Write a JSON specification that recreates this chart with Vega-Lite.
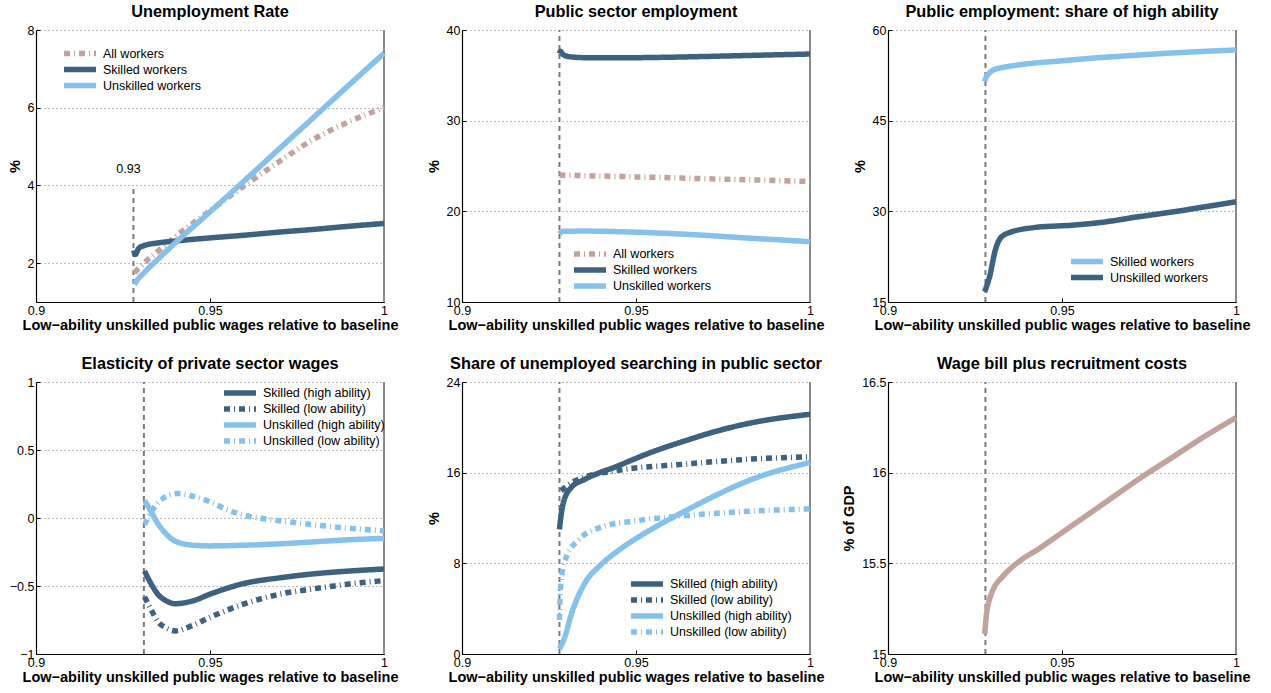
{
  "$schema": "https://vega.github.io/schema/vega-lite/v6.json",
  "background": "white",
  "padding": {"left": 7, "top": 3, "right": 5, "bottom": 5},
  "columns": 3,
  "spacing": {"row": 80, "column": 78},
  "bounds": "flush",
  "datasets": {
    "unemp": [
      {"w": 0.9283, "v": 1.75, "s": "All workers"},
      {"w": 0.929, "v": 1.82, "s": "All workers"},
      {"w": 0.931, "v": 2.0, "s": "All workers"},
      {"w": 0.935, "v": 2.3, "s": "All workers"},
      {"w": 0.94, "v": 2.68, "s": "All workers"},
      {"w": 0.95, "v": 3.35, "s": "All workers"},
      {"w": 0.96, "v": 4.0, "s": "All workers"},
      {"w": 0.97, "v": 4.62, "s": "All workers"},
      {"w": 0.98, "v": 5.2, "s": "All workers"},
      {"w": 0.99, "v": 5.64, "s": "All workers"},
      {"w": 1.0, "v": 6.0, "s": "All workers"},
      {"w": 0.9281, "v": 2.33, "s": "Skilled workers"},
      {"w": 0.9285, "v": 2.22, "s": "Skilled workers"},
      {"w": 0.9295, "v": 2.38, "s": "Skilled workers"},
      {"w": 0.931, "v": 2.45, "s": "Skilled workers"},
      {"w": 0.935, "v": 2.52, "s": "Skilled workers"},
      {"w": 0.94, "v": 2.57, "s": "Skilled workers"},
      {"w": 0.95, "v": 2.65, "s": "Skilled workers"},
      {"w": 0.96, "v": 2.72, "s": "Skilled workers"},
      {"w": 0.97, "v": 2.8, "s": "Skilled workers"},
      {"w": 0.98, "v": 2.87, "s": "Skilled workers"},
      {"w": 0.99, "v": 2.95, "s": "Skilled workers"},
      {"w": 1.0, "v": 3.02, "s": "Skilled workers"},
      {"w": 0.9283, "v": 1.45, "s": "Unskilled workers"},
      {"w": 0.929, "v": 1.55, "s": "Unskilled workers"},
      {"w": 0.931, "v": 1.75, "s": "Unskilled workers"},
      {"w": 0.933, "v": 1.93, "s": "Unskilled workers"},
      {"w": 0.935, "v": 2.1, "s": "Unskilled workers"},
      {"w": 0.94, "v": 2.52, "s": "Unskilled workers"},
      {"w": 0.95, "v": 3.32, "s": "Unskilled workers"},
      {"w": 0.96, "v": 4.13, "s": "Unskilled workers"},
      {"w": 0.97, "v": 4.95, "s": "Unskilled workers"},
      {"w": 0.98, "v": 5.77, "s": "Unskilled workers"},
      {"w": 0.99, "v": 6.59, "s": "Unskilled workers"},
      {"w": 1.0, "v": 7.4, "s": "Unskilled workers"}
    ],
    "pubemp": [
      {"w": 0.928, "v": 24.0, "s": "All workers"},
      {"w": 0.95, "v": 23.8, "s": "All workers"},
      {"w": 0.975, "v": 23.55, "s": "All workers"},
      {"w": 1.0, "v": 23.3, "s": "All workers"},
      {"w": 0.928, "v": 37.4, "s": "Skilled workers"},
      {"w": 0.9283, "v": 37.65, "s": "Skilled workers"},
      {"w": 0.929, "v": 37.3, "s": "Skilled workers"},
      {"w": 0.931, "v": 37.05, "s": "Skilled workers"},
      {"w": 0.935, "v": 36.95, "s": "Skilled workers"},
      {"w": 0.95, "v": 36.95, "s": "Skilled workers"},
      {"w": 0.96, "v": 37.0, "s": "Skilled workers"},
      {"w": 0.97, "v": 37.08, "s": "Skilled workers"},
      {"w": 0.98, "v": 37.17, "s": "Skilled workers"},
      {"w": 0.99, "v": 37.26, "s": "Skilled workers"},
      {"w": 1.0, "v": 37.35, "s": "Skilled workers"},
      {"w": 0.928, "v": 17.5, "s": "Unskilled workers"},
      {"w": 0.929, "v": 17.8, "s": "Unskilled workers"},
      {"w": 0.935, "v": 17.82, "s": "Unskilled workers"},
      {"w": 0.95, "v": 17.7, "s": "Unskilled workers"},
      {"w": 0.96, "v": 17.55, "s": "Unskilled workers"},
      {"w": 0.97, "v": 17.35, "s": "Unskilled workers"},
      {"w": 0.98, "v": 17.1, "s": "Unskilled workers"},
      {"w": 0.99, "v": 16.88, "s": "Unskilled workers"},
      {"w": 1.0, "v": 16.65, "s": "Unskilled workers"}
    ],
    "share": [
      {"w": 0.9278, "v": 51.5, "s": "Skilled workers"},
      {"w": 0.928, "v": 51.9, "s": "Skilled workers"},
      {"w": 0.929, "v": 52.8, "s": "Skilled workers"},
      {"w": 0.93, "v": 53.3, "s": "Skilled workers"},
      {"w": 0.932, "v": 53.7, "s": "Skilled workers"},
      {"w": 0.935, "v": 54.0, "s": "Skilled workers"},
      {"w": 0.94, "v": 54.4, "s": "Skilled workers"},
      {"w": 0.95, "v": 54.9, "s": "Skilled workers"},
      {"w": 0.96, "v": 55.4, "s": "Skilled workers"},
      {"w": 0.97, "v": 55.8, "s": "Skilled workers"},
      {"w": 0.98, "v": 56.15, "s": "Skilled workers"},
      {"w": 0.99, "v": 56.45, "s": "Skilled workers"},
      {"w": 1.0, "v": 56.7, "s": "Skilled workers"},
      {"w": 0.9278, "v": 16.7, "s": "Unskilled workers"},
      {"w": 0.9293, "v": 19.4, "s": "Unskilled workers"},
      {"w": 0.9307, "v": 23.3, "s": "Unskilled workers"},
      {"w": 0.9326, "v": 25.8, "s": "Unskilled workers"},
      {"w": 0.9355, "v": 26.6, "s": "Unskilled workers"},
      {"w": 0.9432, "v": 27.4, "s": "Unskilled workers"},
      {"w": 0.9528, "v": 27.7, "s": "Unskilled workers"},
      {"w": 0.9624, "v": 28.25, "s": "Unskilled workers"},
      {"w": 0.972, "v": 29.1, "s": "Unskilled workers"},
      {"w": 0.9816, "v": 29.9, "s": "Unskilled workers"},
      {"w": 1.0, "v": 31.6, "s": "Unskilled workers"}
    ],
    "elast": [
      {"w": 0.9312, "v": -0.39, "s": "Skilled (high ability)"},
      {"w": 0.933, "v": -0.48, "s": "Skilled (high ability)"},
      {"w": 0.935, "v": -0.56, "s": "Skilled (high ability)"},
      {"w": 0.9375, "v": -0.61, "s": "Skilled (high ability)"},
      {"w": 0.94, "v": -0.63, "s": "Skilled (high ability)"},
      {"w": 0.945, "v": -0.61, "s": "Skilled (high ability)"},
      {"w": 0.95, "v": -0.56, "s": "Skilled (high ability)"},
      {"w": 0.96, "v": -0.48, "s": "Skilled (high ability)"},
      {"w": 0.97, "v": -0.44, "s": "Skilled (high ability)"},
      {"w": 0.98, "v": -0.41, "s": "Skilled (high ability)"},
      {"w": 0.99, "v": -0.39, "s": "Skilled (high ability)"},
      {"w": 1.0, "v": -0.375, "s": "Skilled (high ability)"},
      {"w": 0.9312, "v": -0.58, "s": "Skilled (low ability)"},
      {"w": 0.933, "v": -0.67, "s": "Skilled (low ability)"},
      {"w": 0.935, "v": -0.76, "s": "Skilled (low ability)"},
      {"w": 0.9375, "v": -0.81, "s": "Skilled (low ability)"},
      {"w": 0.94, "v": -0.83, "s": "Skilled (low ability)"},
      {"w": 0.945, "v": -0.79, "s": "Skilled (low ability)"},
      {"w": 0.95, "v": -0.73, "s": "Skilled (low ability)"},
      {"w": 0.96, "v": -0.63, "s": "Skilled (low ability)"},
      {"w": 0.97, "v": -0.56, "s": "Skilled (low ability)"},
      {"w": 0.98, "v": -0.52, "s": "Skilled (low ability)"},
      {"w": 0.99, "v": -0.485, "s": "Skilled (low ability)"},
      {"w": 1.0, "v": -0.46, "s": "Skilled (low ability)"},
      {"w": 0.9312, "v": 0.13, "s": "Unskilled (high ability)"},
      {"w": 0.933, "v": 0.05, "s": "Unskilled (high ability)"},
      {"w": 0.935, "v": -0.04, "s": "Unskilled (high ability)"},
      {"w": 0.9375, "v": -0.12, "s": "Unskilled (high ability)"},
      {"w": 0.94, "v": -0.17, "s": "Unskilled (high ability)"},
      {"w": 0.945, "v": -0.2, "s": "Unskilled (high ability)"},
      {"w": 0.95, "v": -0.205, "s": "Unskilled (high ability)"},
      {"w": 0.96, "v": -0.2, "s": "Unskilled (high ability)"},
      {"w": 0.97, "v": -0.19, "s": "Unskilled (high ability)"},
      {"w": 0.98, "v": -0.175, "s": "Unskilled (high ability)"},
      {"w": 0.99, "v": -0.16, "s": "Unskilled (high ability)"},
      {"w": 1.0, "v": -0.15, "s": "Unskilled (high ability)"},
      {"w": 0.9312, "v": -0.05, "s": "Unskilled (low ability)"},
      {"w": 0.933, "v": 0.04, "s": "Unskilled (low ability)"},
      {"w": 0.935, "v": 0.11, "s": "Unskilled (low ability)"},
      {"w": 0.938, "v": 0.165, "s": "Unskilled (low ability)"},
      {"w": 0.941, "v": 0.18, "s": "Unskilled (low ability)"},
      {"w": 0.945, "v": 0.16, "s": "Unskilled (low ability)"},
      {"w": 0.95, "v": 0.12, "s": "Unskilled (low ability)"},
      {"w": 0.955, "v": 0.06, "s": "Unskilled (low ability)"},
      {"w": 0.96, "v": 0.02, "s": "Unskilled (low ability)"},
      {"w": 0.97, "v": -0.02, "s": "Unskilled (low ability)"},
      {"w": 0.98, "v": -0.05, "s": "Unskilled (low ability)"},
      {"w": 0.99, "v": -0.075, "s": "Unskilled (low ability)"},
      {"w": 1.0, "v": -0.095, "s": "Unskilled (low ability)"}
    ],
    "search": [
      {"w": 0.928, "v": 11.0, "s": "Skilled (high ability)"},
      {"w": 0.9285, "v": 12.3, "s": "Skilled (high ability)"},
      {"w": 0.929, "v": 13.2, "s": "Skilled (high ability)"},
      {"w": 0.9314, "v": 14.7, "s": "Skilled (high ability)"},
      {"w": 0.9352, "v": 15.4, "s": "Skilled (high ability)"},
      {"w": 0.9448, "v": 16.6, "s": "Skilled (high ability)"},
      {"w": 0.9544, "v": 17.8, "s": "Skilled (high ability)"},
      {"w": 0.964, "v": 18.8, "s": "Skilled (high ability)"},
      {"w": 0.9736, "v": 19.7, "s": "Skilled (high ability)"},
      {"w": 0.9832, "v": 20.4, "s": "Skilled (high ability)"},
      {"w": 1.0, "v": 21.15, "s": "Skilled (high ability)"},
      {"w": 0.9285, "v": 14.4, "s": "Skilled (low ability)"},
      {"w": 0.9314, "v": 15.1, "s": "Skilled (low ability)"},
      {"w": 0.9352, "v": 15.6, "s": "Skilled (low ability)"},
      {"w": 0.9448, "v": 16.2, "s": "Skilled (low ability)"},
      {"w": 0.964, "v": 16.75, "s": "Skilled (low ability)"},
      {"w": 0.9832, "v": 17.2, "s": "Skilled (low ability)"},
      {"w": 1.0, "v": 17.4, "s": "Skilled (low ability)"},
      {"w": 0.928, "v": 0.44, "s": "Unskilled (high ability)"},
      {"w": 0.9295, "v": 1.47, "s": "Unskilled (high ability)"},
      {"w": 0.9314, "v": 3.5, "s": "Unskilled (high ability)"},
      {"w": 0.9352, "v": 6.2, "s": "Unskilled (high ability)"},
      {"w": 0.94, "v": 7.9, "s": "Unskilled (high ability)"},
      {"w": 0.9448, "v": 9.1, "s": "Unskilled (high ability)"},
      {"w": 0.9544, "v": 11.0, "s": "Unskilled (high ability)"},
      {"w": 0.964, "v": 12.6, "s": "Unskilled (high ability)"},
      {"w": 0.9736, "v": 14.1, "s": "Unskilled (high ability)"},
      {"w": 0.9832, "v": 15.4, "s": "Unskilled (high ability)"},
      {"w": 1.0, "v": 16.9, "s": "Unskilled (high ability)"},
      {"w": 0.928, "v": 3.0, "s": "Unskilled (low ability)"},
      {"w": 0.9282, "v": 5.0, "s": "Unskilled (low ability)"},
      {"w": 0.9287, "v": 7.0, "s": "Unskilled (low ability)"},
      {"w": 0.93, "v": 8.6, "s": "Unskilled (low ability)"},
      {"w": 0.9333, "v": 10.0, "s": "Unskilled (low ability)"},
      {"w": 0.94, "v": 11.2, "s": "Unskilled (low ability)"},
      {"w": 0.95, "v": 11.75, "s": "Unskilled (low ability)"},
      {"w": 0.96, "v": 12.1, "s": "Unskilled (low ability)"},
      {"w": 0.97, "v": 12.35, "s": "Unskilled (low ability)"},
      {"w": 0.98, "v": 12.55, "s": "Unskilled (low ability)"},
      {"w": 0.99, "v": 12.7, "s": "Unskilled (low ability)"},
      {"w": 1.0, "v": 12.8, "s": "Unskilled (low ability)"}
    ],
    "wage": [
      {"w": 0.9278, "v": 15.11},
      {"w": 0.9283, "v": 15.22},
      {"w": 0.9293, "v": 15.31},
      {"w": 0.9307, "v": 15.375},
      {"w": 0.9326, "v": 15.42},
      {"w": 0.9355, "v": 15.477},
      {"w": 0.9393, "v": 15.532},
      {"w": 0.9432, "v": 15.578},
      {"w": 0.948, "v": 15.643},
      {"w": 0.9528, "v": 15.707},
      {"w": 0.9624, "v": 15.835},
      {"w": 0.972, "v": 15.964},
      {"w": 0.9816, "v": 16.083},
      {"w": 0.9912, "v": 16.203},
      {"w": 1.0, "v": 16.304}
    ]
  },
  "concat": [
    {
      "title": {"text": "Unemployment Rate"},
      "width": 348,
      "height": 272,
      "encoding": {
        "x": {"field": "w", "type": "quantitative", "scale": {"domain": [0.9, 1], "nice": false, "zero": false}, "axis": {"values": [0.9, 0.95, 1], "format": "~f", "title": "Low−ability unskilled public wages relative to baseline"}},
        "y": {"field": "v", "type": "quantitative", "scale": {"domain": [1, 8], "nice": false, "zero": false}, "axis": {"values": [2, 4, 6, 8], "format": "~f", "title": "%"}}
      },
      "layer": [
        {"data": {"values": [{"w": 1, "v": 1, "v2": 8}]}, "mark": {"type": "rule", "color": "#8a8a8a", "strokeWidth": 2}, "encoding": {"y2": {"field": "v2"}}},
        {"data": {"values": [{"w": 0.928, "v": 1, "v2": 4}]}, "mark": {"type": "rule", "color": "#7a7a7a", "strokeWidth": 2, "strokeDash": [5, 4]}, "encoding": {"y2": {"field": "v2"}}},
        {"data": {"values": [{"w": 0.928, "v": 4.31, "t": "0.93"}]}, "mark": {"type": "text", "fontSize": 12.5, "align": "center", "baseline": "alphabetic", "dx": -5, "color": "black"}, "encoding": {"text": {"field": "t"}}},
        {
          "data": {"name": "unemp"},
          "mark": {"type": "line", "strokeWidth": 5.5, "interpolate": "monotone"},
          "encoding": {
            "color": {"field": "s", "type": "nominal", "scale": {"domain": ["All workers", "Skilled workers", "Unskilled workers"], "range": ["#c2a29d", "#3e6180", "#85c1ea"]}, "legend": {"title": null, "orient": "none", "legendX": 25, "legendY": 15.5}},
            "strokeDash": {"field": "s", "type": "nominal", "scale": {"domain": ["All workers", "Skilled workers", "Unskilled workers"], "range": [[6, 4, 1, 4], [1, 0], [1, 0]]}, "legend": {"title": null, "orient": "none", "legendX": 25, "legendY": 15.5}}
          }
        }
      ]
    },
    {
      "title": {"text": "Public sector employment"},
      "width": 348,
      "height": 272,
      "encoding": {
        "x": {"field": "w", "type": "quantitative", "scale": {"domain": [0.9, 1], "nice": false, "zero": false}, "axis": {"values": [0.9, 0.95, 1], "format": "~f", "title": "Low−ability unskilled public wages relative to baseline"}},
        "y": {"field": "v", "type": "quantitative", "scale": {"domain": [10, 40], "nice": false, "zero": false}, "axis": {"values": [10, 20, 30, 40], "format": "~f", "title": "%"}}
      },
      "layer": [
        {"data": {"values": [{"w": 1, "v": 10, "v2": 40}]}, "mark": {"type": "rule", "color": "#8a8a8a", "strokeWidth": 2}, "encoding": {"y2": {"field": "v2"}}},
        {"data": {"values": [{"w": 0.928, "v": 10, "v2": 40}]}, "mark": {"type": "rule", "color": "#7a7a7a", "strokeWidth": 2, "strokeDash": [5, 4]}, "encoding": {"y2": {"field": "v2"}}},
        {
          "data": {"name": "pubemp"},
          "mark": {"type": "line", "strokeWidth": 5.5, "interpolate": "monotone"},
          "encoding": {
            "color": {"field": "s", "type": "nominal", "scale": {"domain": ["All workers", "Skilled workers", "Unskilled workers"], "range": ["#c2a29d", "#3e6180", "#85c1ea"]}, "legend": {"title": null, "orient": "none", "legendX": 109, "legendY": 216}},
            "strokeDash": {"field": "s", "type": "nominal", "scale": {"domain": ["All workers", "Skilled workers", "Unskilled workers"], "range": [[6, 4, 1, 4], [1, 0], [1, 0]]}, "legend": {"title": null, "orient": "none", "legendX": 109, "legendY": 216}}
          }
        }
      ]
    },
    {
      "title": {"text": "Public employment: share of high ability"},
      "width": 348,
      "height": 272,
      "encoding": {
        "x": {"field": "w", "type": "quantitative", "scale": {"domain": [0.9, 1], "nice": false, "zero": false}, "axis": {"values": [0.9, 0.95, 1], "format": "~f", "title": "Low−ability unskilled public wages relative to baseline"}},
        "y": {"field": "v", "type": "quantitative", "scale": {"domain": [15, 60], "nice": false, "zero": false}, "axis": {"values": [15, 30, 45, 60], "format": "~f", "title": "%"}}
      },
      "layer": [
        {"data": {"values": [{"w": 1, "v": 15, "v2": 60}]}, "mark": {"type": "rule", "color": "#8a8a8a", "strokeWidth": 2}, "encoding": {"y2": {"field": "v2"}}},
        {"data": {"values": [{"w": 0.928, "v": 15, "v2": 60}]}, "mark": {"type": "rule", "color": "#7a7a7a", "strokeWidth": 2, "strokeDash": [5, 4]}, "encoding": {"y2": {"field": "v2"}}},
        {
          "data": {"name": "share"},
          "mark": {"type": "line", "strokeWidth": 5.5, "interpolate": "monotone"},
          "encoding": {
            "color": {"field": "s", "type": "nominal", "scale": {"domain": ["Skilled workers", "Unskilled workers"], "range": ["#85c1ea", "#3e6180"]}, "legend": {"title": null, "orient": "none", "legendX": 180, "legendY": 223.5}}
          }
        }
      ]
    },
    {
      "title": {"text": "Elasticity of private sector wages"},
      "width": 348,
      "height": 272,
      "encoding": {
        "x": {"field": "w", "type": "quantitative", "scale": {"domain": [0.9, 1], "nice": false, "zero": false}, "axis": {"values": [0.9, 0.95, 1], "format": "~f", "title": "Low−ability unskilled public wages relative to baseline"}},
        "y": {"field": "v", "type": "quantitative", "scale": {"domain": [-1, 1], "nice": false, "zero": false}, "axis": {"values": [-1, -0.5, 0, 0.5, 1], "format": "~f", "title": null}}
      },
      "layer": [
        {"data": {"values": [{"w": 1, "v": -1, "v2": 1}]}, "mark": {"type": "rule", "color": "#8a8a8a", "strokeWidth": 2}, "encoding": {"y2": {"field": "v2"}}},
        {"data": {"values": [{"w": 0.931, "v": -1, "v2": 1}]}, "mark": {"type": "rule", "color": "#7a7a7a", "strokeWidth": 2, "strokeDash": [5, 4]}, "encoding": {"y2": {"field": "v2"}}},
        {
          "data": {"name": "elast"},
          "mark": {"type": "line", "strokeWidth": 5.5, "interpolate": "monotone"},
          "encoding": {
            "color": {"field": "s", "type": "nominal", "scale": {"domain": ["Skilled (high ability)", "Skilled (low ability)", "Unskilled (high ability)", "Unskilled (low ability)"], "range": ["#3e6180", "#3e6180", "#85c1ea", "#85c1ea"]}, "legend": {"title": null, "orient": "none", "legendX": 185, "legendY": 3}},
            "strokeDash": {"field": "s", "type": "nominal", "scale": {"domain": ["Skilled (high ability)", "Skilled (low ability)", "Unskilled (high ability)", "Unskilled (low ability)"], "range": [[1, 0], [6, 4, 1, 4], [1, 0], [6, 4, 1, 4]]}, "legend": {"title": null, "orient": "none", "legendX": 185, "legendY": 3}}
          }
        }
      ]
    },
    {
      "title": {"text": "Share of unemployed searching in public sector"},
      "width": 348,
      "height": 272,
      "encoding": {
        "x": {"field": "w", "type": "quantitative", "scale": {"domain": [0.9, 1], "nice": false, "zero": false}, "axis": {"values": [0.9, 0.95, 1], "format": "~f", "title": "Low−ability unskilled public wages relative to baseline"}},
        "y": {"field": "v", "type": "quantitative", "scale": {"domain": [0, 24], "nice": false, "zero": false}, "axis": {"values": [0, 8, 16, 24], "format": "~f", "title": "%"}}
      },
      "layer": [
        {"data": {"values": [{"w": 1, "v": 0, "v2": 24}]}, "mark": {"type": "rule", "color": "#8a8a8a", "strokeWidth": 2}, "encoding": {"y2": {"field": "v2"}}},
        {"data": {"values": [{"w": 0.928, "v": 0, "v2": 24}]}, "mark": {"type": "rule", "color": "#7a7a7a", "strokeWidth": 2, "strokeDash": [5, 4]}, "encoding": {"y2": {"field": "v2"}}},
        {
          "data": {"name": "search"},
          "mark": {"type": "line", "strokeWidth": 5.5, "interpolate": "monotone"},
          "encoding": {
            "color": {"field": "s", "type": "nominal", "scale": {"domain": ["Skilled (high ability)", "Skilled (low ability)", "Unskilled (high ability)", "Unskilled (low ability)"], "range": ["#3e6180", "#3e6180", "#85c1ea", "#85c1ea"]}, "legend": {"title": null, "orient": "none", "legendX": 166, "legendY": 194}},
            "strokeDash": {"field": "s", "type": "nominal", "scale": {"domain": ["Skilled (high ability)", "Skilled (low ability)", "Unskilled (high ability)", "Unskilled (low ability)"], "range": [[1, 0], [6, 4, 1, 4], [1, 0], [6, 4, 1, 4]]}, "legend": {"title": null, "orient": "none", "legendX": 166, "legendY": 194}}
          }
        }
      ]
    },
    {
      "title": {"text": "Wage bill plus recruitment costs"},
      "width": 348,
      "height": 272,
      "encoding": {
        "x": {"field": "w", "type": "quantitative", "scale": {"domain": [0.9, 1], "nice": false, "zero": false}, "axis": {"values": [0.9, 0.95, 1], "format": "~f", "title": "Low−ability unskilled public wages relative to baseline"}},
        "y": {"field": "v", "type": "quantitative", "scale": {"domain": [15, 16.5], "nice": false, "zero": false}, "axis": {"values": [15, 15.5, 16, 16.5], "format": "~f", "title": "% of GDP"}}
      },
      "layer": [
        {"data": {"values": [{"w": 1, "v": 15, "v2": 16.5}]}, "mark": {"type": "rule", "color": "#8a8a8a", "strokeWidth": 2}, "encoding": {"y2": {"field": "v2"}}},
        {"data": {"values": [{"w": 0.928, "v": 15, "v2": 16.5}]}, "mark": {"type": "rule", "color": "#7a7a7a", "strokeWidth": 2, "strokeDash": [5, 4]}, "encoding": {"y2": {"field": "v2"}}},
        {
          "data": {"name": "wage"},
          "mark": {"type": "line", "strokeWidth": 5.5, "interpolate": "monotone", "color": "#c2a29d"},
          "encoding": {}
        }
      ]
    }
  ],
  "resolve": {
    "scale": {"color": "independent", "strokeDash": "independent"},
    "legend": {"color": "independent", "strokeDash": "independent"}
  },
  "config": {
    "font": "Liberation Sans",
    "view": {"stroke": null},
    "title": {"font": "Liberation Sans", "fontSize": 16.3, "fontWeight": "bold", "color": "black", "offset": 4},
    "axis": {
      "labelFont": "Liberation Sans",
      "titleFont": "Liberation Sans",
      "labelFontSize": 12.5,
      "titleFontSize": 14.5,
      "titleFontWeight": "bold",
      "labelColor": "black",
      "titleColor": "black",
      "domainColor": "black",
      "domainWidth": 1.2,
      "tickColor": "black",
      "tickSize": -4,
      "labelPadding": 6,
      "gridColor": "#777777",
      "gridDash": [1, 3],
      "gridWidth": 1
    },
    "axisX": {"grid": false, "labelFlush": false, "titlePadding": 2},
    "axisY": {"grid": true, "titlePadding": 5},
    "legend": {
      "labelFont": "Liberation Sans",
      "labelFontSize": 12.5,
      "labelColor": "black",
      "symbolType": "stroke",
      "symbolSize": 1024,
      "symbolStrokeWidth": 5.5,
      "clipHeight": 16,
      "rowPadding": 0,
      "padding": 0,
      "labelOffset": 4
    }
  }
}
